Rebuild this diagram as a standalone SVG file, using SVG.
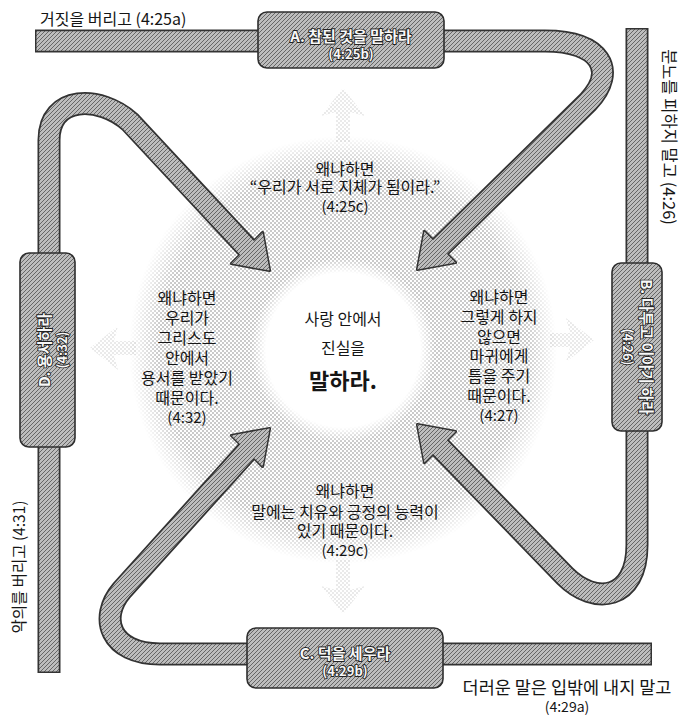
<svg xmlns="http://www.w3.org/2000/svg" width="682" height="717" viewBox="0 0 682 717">
<style>
.t{font-family:'Noto Sans CJK KR','Noto Sans',sans-serif;fill:#151515;font-size:16px;text-anchor:middle}
.n{font-size:15px}
.big{font-size:22px;font-weight:bold}
.lbl{font-family:'Noto Sans CJK KR','Noto Sans',sans-serif;fill:#151515;font-size:16px}
.bx{fill:url(#tex);stroke:#2e2e2e;stroke-width:1.6}
.bt{font-family:'Noto Sans CJK KR','Noto Sans',sans-serif;fill:#f7f7f7;stroke:#222;stroke-width:1.8;paint-order:stroke;font-weight:bold;font-size:15px;text-anchor:middle}
.bn{font-size:13px}
.edge{fill:none;stroke:#333;stroke-width:23}
.band{fill:none;stroke:url(#tex);stroke-width:19.5}
.hd{fill:#333;stroke:#333;stroke-width:3;stroke-linejoin:round}
.hf{fill:url(#tex)}
.chev{fill:url(#dots);opacity:0.4}
</style>
<defs>
<pattern id="tex" width="4" height="4" patternUnits="userSpaceOnUse">
<rect width="4" height="4" fill="#bdbdbd"/>
<path d="M-1,1 L1,-1 M0,4 L4,0 M3,5 L5,3" stroke="#666" stroke-width="1"/>
</pattern>
<pattern id="dots" width="4" height="4" patternUnits="userSpaceOnUse">
<circle cx="1" cy="1" r="0.75" fill="#7a7a7a"/>
<circle cx="3" cy="3" r="0.75" fill="#7a7a7a"/>
</pattern>
<radialGradient id="g" cx="343" cy="350" r="214" gradientUnits="userSpaceOnUse">
<stop offset="0" stop-color="#000"/>
<stop offset="0.36" stop-color="#000"/>
<stop offset="0.43" stop-color="#fff"/>
<stop offset="0.86" stop-color="#fff"/>
<stop offset="1" stop-color="#000"/>
</radialGradient>
<mask id="m" maskUnits="userSpaceOnUse" x="0" y="0" width="682" height="717">
<circle cx="343" cy="350" r="214" fill="url(#g)"/>
</mask>
</defs>

<g id="halo">
<rect x="120" y="130" width="450" height="450" fill="url(#dots)" mask="url(#m)"/>
<polygon class="chev" points="343,88 321,116 336,112 336,142 350,142 350,112 365,116"/>
<polygon class="chev" points="343,614 321,586 336,590 336,560 350,560 350,590 365,586"/>
<polygon class="chev" points="90,348 118,326 114,341 136,341 136,355 114,355 118,370"/>
<polygon class="chev" points="594,340 566,318 570,333 550,333 550,347 570,347 566,362"/>
</g>

<g id="connectors">
<path class="edge" d="M35,41 H545 C600,41 618,70 588,102 L437.2,249.8"/>
<path class="edge" d="M637,28 V545 C637,600 595,606 565,576 L437.2,444.2"/>
<path class="edge" d="M652,654 H160 C110,654 98,618 122,590 L249.8,448.2"/>
<path class="edge" d="M49,673 V140 C49,95 100,95 130,122 L249.8,250.8"/>
<polygon class="hd" points="417.4,269.6 455.6,262.6 424.4,231.4"/>
<polygon class="hd" points="417.4,424.4 455.6,431.4 424.4,462.6"/>
<polygon class="hd" points="269.6,428.4 262.6,466.6 231.4,435.4"/>
<polygon class="hd" points="269.6,270.6 262.6,232.4 231.4,263.6"/>
<path class="band" d="M36.5,41 H545 C600,41 618,70 588,102 L437.2,249.8"/>
<path class="band" d="M637,29.5 V545 C637,600 595,606 565,576 L437.2,444.2"/>
<path class="band" d="M650.5,654 H160 C110,654 98,618 122,590 L249.8,448.2"/>
<path class="band" d="M49,671.5 V140 C49,95 100,95 130,122 L249.8,250.8"/>
<polygon class="hf" points="417.4,269.6 455.6,262.6 424.4,231.4"/>
<polygon class="hf" points="417.4,424.4 455.6,431.4 424.4,462.6"/>
<polygon class="hf" points="269.6,428.4 262.6,466.6 231.4,435.4"/>
<polygon class="hf" points="269.6,270.6 262.6,232.4 231.4,263.6"/>
</g>

<g id="nodeA">
<rect class="bx" x="258" y="12" width="186" height="56" rx="9"/>
<text class="bt" x="351" y="42">A. 참된 것을 말하라</text>
<text class="bt bn" x="351" y="59">(4:25b)</text>
</g>
<g id="nodeB">
<rect class="bx" x="612" y="263" width="50" height="168" rx="9"/>
<text class="bt" transform="translate(641,347) rotate(90)">B. 다투고 이야기 하라</text>
<text class="bt bn" transform="translate(623,347) rotate(90)">(4:26)</text>
</g>
<g id="nodeC">
<rect class="bx" x="247" y="628" width="196" height="60" rx="9"/>
<text class="bt" x="345" y="659">C. 덕을 세우라</text>
<text class="bt bn" x="345" y="676">(4:29b)</text>
</g>
<g id="nodeD">
<rect class="bx" x="20" y="253" width="55" height="194" rx="9"/>
<text class="bt" transform="translate(50,350) rotate(-90)">D. 용서하라</text>
<text class="bt bn" transform="translate(67,350) rotate(-90)">(4:32)</text>
</g>

<g id="center">
<text class="t" x="343" y="325">사랑 안에서</text>
<text class="t" x="343" y="354">진실을</text>
<text class="t big" x="343" y="389">말하라.</text>
</g>

<g id="reasonTop">
<text class="t" x="345" y="175">왜냐하면</text>
<text class="t" x="345" y="193">“우리가 서로 지체가 됨이라.”</text>
<text class="t n" x="345" y="212">(4:25c)</text>
</g>
<g id="reasonLeft">
<text class="t" x="187" y="304">왜냐하면</text>
<text class="t" x="187" y="324">우리가</text>
<text class="t" x="187" y="344">그리스도</text>
<text class="t" x="187" y="364">안에서</text>
<text class="t" x="187" y="384">용서를 받았기</text>
<text class="t" x="187" y="404">때문이다.</text>
<text class="t n" x="187" y="423">(4:32)</text>
</g>
<g id="reasonRight">
<text class="t" x="499" y="303">왜냐하면</text>
<text class="t" x="499" y="323">그렇게 하지</text>
<text class="t" x="499" y="343">않으면</text>
<text class="t" x="499" y="362">마귀에게</text>
<text class="t" x="499" y="382">틈을 주기</text>
<text class="t" x="499" y="402">때문이다.</text>
<text class="t n" x="499" y="421">(4:27)</text>
</g>
<g id="reasonBottom">
<text class="t" x="345" y="497">왜냐하면</text>
<text class="t" x="345" y="518">말에는 치유와 긍정의 능력이</text>
<text class="t" x="345" y="537">있기 때문이다.</text>
<text class="t n" x="345" y="556">(4:29c)</text>
</g>

<g id="labels">
<text class="lbl" x="40" y="25">거짓을 버리고 (4:25a)</text>
<text class="lbl" style="font-size:16.5px;text-anchor:middle" transform="translate(663,137) rotate(90)">분노를 피하지 말고 (4:26)</text>
<text class="lbl" style="font-size:15.5px;text-anchor:middle" transform="translate(25,567) rotate(-90)">악의를 버리고 (4:31)</text>
<text class="lbl" style="font-size:17.5px;text-anchor:middle" x="567" y="694">더러운 말은 입밖에 내지 말고</text>
<text class="lbl" style="font-size:14px;text-anchor:middle" x="567" y="712">(4:29a)</text>
</g>
</svg>
